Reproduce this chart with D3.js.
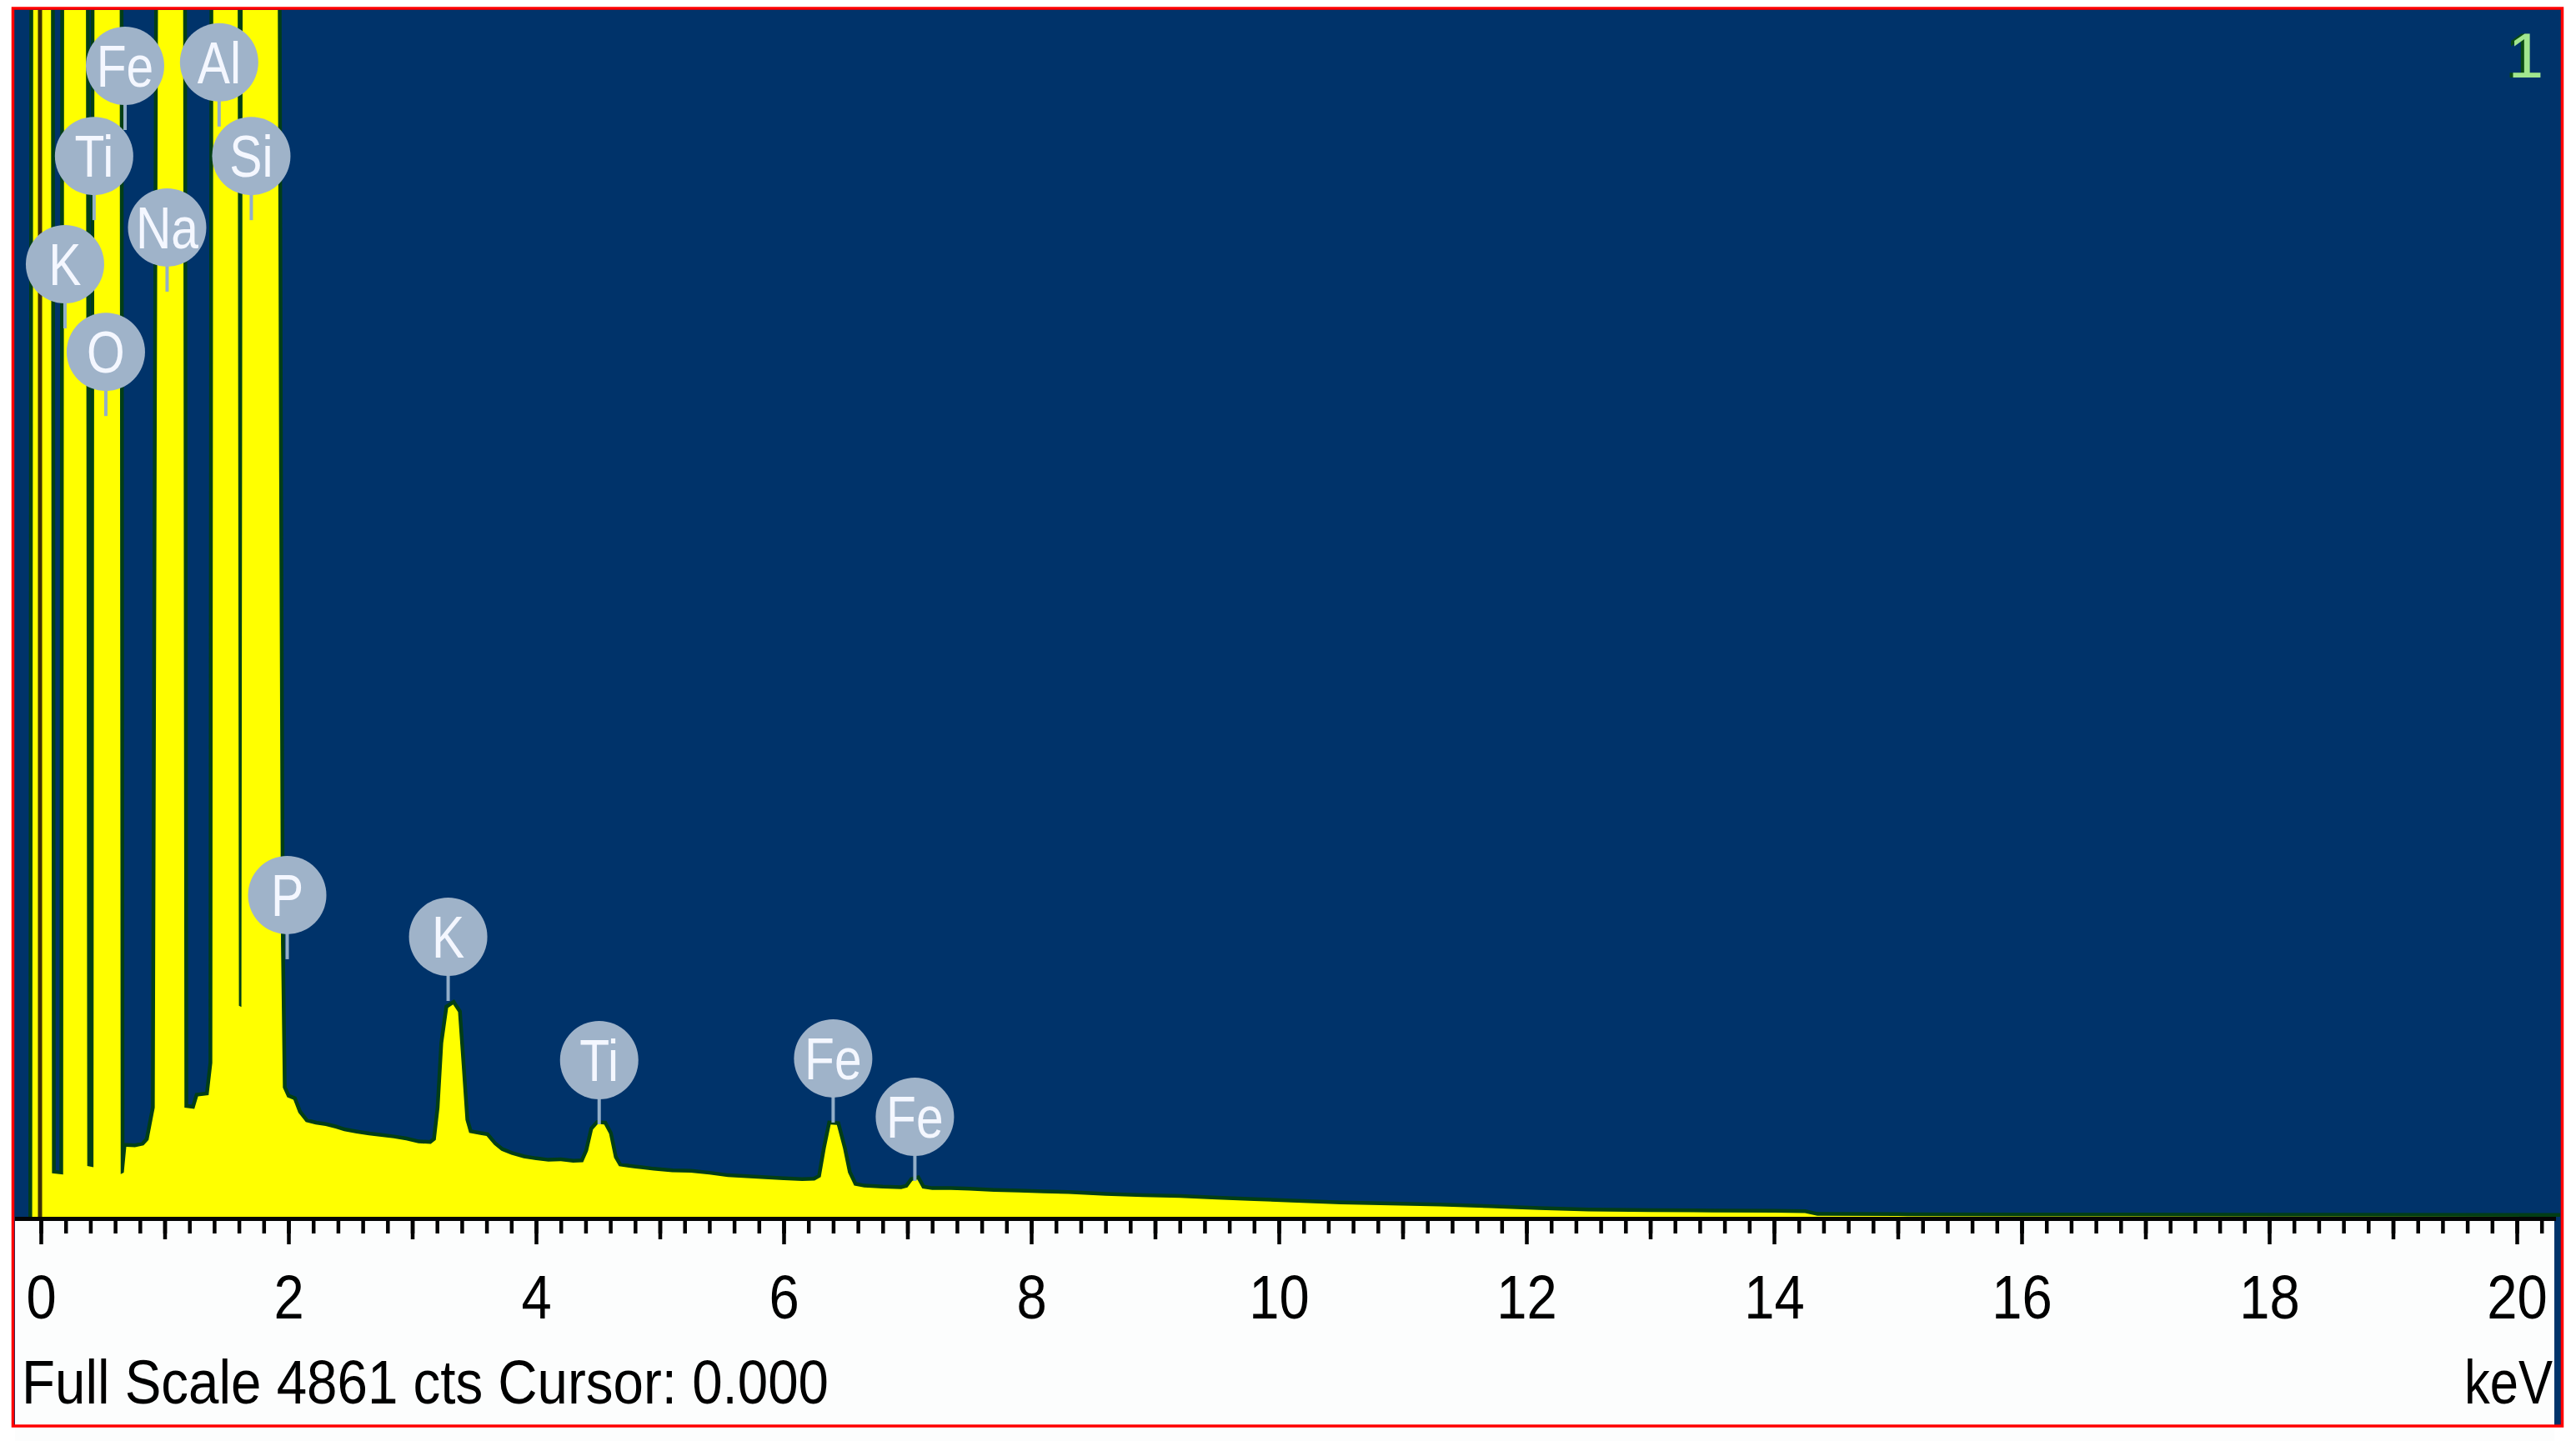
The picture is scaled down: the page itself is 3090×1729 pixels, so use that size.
<!DOCTYPE html>
<html>
<head>
<meta charset="utf-8">
<title>EDS spectrum</title>
<script src="https://cdn.jsdelivr.net/npm/d3@7/dist/d3.min.js"></script>
<style>
  html, body { margin: 0; padding: 0; background: #ffffff; }
  svg { display: block; }
  text { font-family: "Liberation Sans", Arial, sans-serif; }
</style>
</head>
<body>
<svg id="chart" width="3090" height="1729"></svg>
<script>
// --- data (keV, counts); 9000 = off scale (clipped) ---
const spectrumKeV = [
  -0.07, -0.055, 0.075, 0.09, 0.18, 0.195, 0.355, 0.375, 0.425, 0.44,
  0.63, 0.645, 0.67, 0.69, 0.76, 0.83, 0.87, 0.92, 0.97, 1.14,
  1.16, 1.24, 1.27, 1.355, 1.385, 1.40, 1.58, 1.60, 1.62, 1.64,
  1.89, 1.925, 1.94, 1.955, 1.99, 2.04, 2.08, 2.14, 2.22, 2.30,
  2.38, 2.45, 2.55, 2.65, 2.75, 2.85, 2.95, 3.05, 3.15, 3.19,
  3.22, 3.25, 3.29, 3.33, 3.37, 3.40, 3.43, 3.46, 3.55, 3.60,
  3.66, 3.72, 3.80, 3.90, 4.00, 4.10, 4.20, 4.30, 4.38, 4.42,
  4.46, 4.50, 4.55, 4.59, 4.63, 4.67, 4.75, 4.85, 4.95, 5.10,
  5.25, 5.40, 5.55, 5.70, 5.85, 6.00, 6.15, 6.25, 6.30, 6.34,
  6.38, 6.43, 6.48, 6.52, 6.57, 6.65, 6.80, 6.95, 7.00, 7.04,
  7.08, 7.12, 7.20, 7.35, 7.50, 7.70, 7.90, 8.10, 8.30, 8.60,
  8.90, 9.20, 9.50, 9.80, 10.1, 10.5, 10.9, 11.3, 11.7, 12.1,
  12.5, 13.0, 13.5, 14.0, 14.25, 14.35, 15.0, 16.0, 18.0, 20.35
];
const spectrumCounts = [
  0, 9000, 9000, 175, 170, 9000, 9000, 205, 200, 9000,
  9000, 172, 178, 282, 280, 288, 310, 440, 9000, 9000,
  440, 435, 485, 490, 620, 9000, 9000, 850, 845, 9000,
  9000, 3000, 1100, 520, 482, 472, 420, 382, 372, 366,
  356, 345, 336, 328, 322, 316, 308, 296, 294, 310,
  440, 700, 842, 855, 825, 610, 390, 338, 330, 326,
  290, 266, 250, 236, 228, 222, 224, 218, 220, 265,
  352, 374, 372, 335, 238, 204, 198, 192, 186, 180,
  178, 170, 160, 156, 152, 148, 144, 146, 160, 275,
  372, 370, 275, 178, 126, 118, 114, 112, 118, 145,
  150, 114, 108, 108, 106, 101, 98, 95, 92, 85,
  80, 76, 70, 64, 58, 50, 46, 42, 35, 28,
  22, 19, 18, 17, 15, 4, 3, 2, 1, 0
];

// element markers: label, energy (keV), marker centre height (counts)
const markerLabels = ['Fe', 'Al', 'Ti', 'Si', 'Na', 'K', 'O', 'P', 'K', 'Ti', 'Fe', 'Fe'];
const markerKeV = [0.68, 1.44, 0.43, 1.70, 1.02, 0.195, 0.525, 1.99, 3.29, 4.51, 6.40, 7.06];
const markerCounts = [4636, 4650, 4273, 4273, 3985, 3837, 3484, 1296, 1128, 631, 638, 403];

const majorTicks = d3.range(0, 21, 2);
const midTicks = d3.range(1, 20, 2);
const minorTicks = d3.range(0, 101).map(i => i * 0.2 + 0.0001).concat([20.2]);

const fullScale = 4861;
const footerText = 'Full Scale 4861 cts Cursor: 0.000';
const unitText = 'keV';
const spectrumNumber = '1';

// --- layout ---
const svg = d3.select('#chart');
const plotTop = 12, plotBottom = 1460, plotLeft = 17, plotRight = 3071;

const x = d3.scaleLinear().domain([0, 20]).range([49, 3019]);
const y = d3.scaleLinear().domain([0, fullScale]).range([plotBottom, plotTop]);

// window background
svg.append('rect')
  .attr('x', 16).attr('y', 11).attr('width', 3057).attr('height', 1699)
  .attr('fill', '#00336a');

// white axis strip
svg.append('rect')
  .attr('x', 18).attr('y', 1465).attr('width', 3046).attr('height', 1239)
  .attr('fill', '#fcfdfd');

svg.append('clipPath').attr('id', 'plotClip')
  .append('rect')
  .attr('x', plotLeft).attr('y', plotTop)
  .attr('width', plotRight - plotLeft).attr('height', plotBottom - plotTop);

const spectrum = spectrumKeV.map((e, i) => [e, spectrumCounts[i]]);

const plot = svg.append('g').attr('clip-path', 'url(#plotClip)');

// dark green outline drawn under the yellow fill
plot.append('path')
  .datum(spectrum)
  .attr('fill', 'none')
  .attr('stroke', '#023e16')
  .attr('stroke-width', 9)
  .attr('stroke-linejoin', 'miter')
  .attr('d', d3.line().x(d => x(d[0])).y(d => y(d[1])));

plot.append('path')
  .datum(spectrum)
  .attr('fill', '#ffff00')
  .attr('d', d3.area().x(d => x(d[0])).y0(y(0)).y1(d => y(d[1])));

// cursor at 0.000 keV
plot.append('line')
  .attr('x1', x(0) - 1).attr('x2', x(0) - 1)
  .attr('y1', plotTop).attr('y2', plotBottom)
  .attr('stroke', '#3a3005').attr('stroke-width', 5);

// axis base line
svg.append('rect')
  .attr('x', 18).attr('y', 1460).attr('width', 3048).attr('height', 5)
  .attr('fill', '#050505');

// ticks
const tickSets = [
  { values: minorTicks, size: 15 },
  { values: midTicks, size: 22 },
  { values: majorTicks, size: 28 }
];
tickSets.forEach(t => {
  const g = svg.append('g')
    .attr('transform', `translate(0,${1465})`)
    .call(d3.axisBottom(x).tickValues(t.values).tickSize(t.size).tickFormat(''));
  g.select('.domain').remove();
  g.selectAll('.tick line').attr('stroke', '#000').attr('stroke-width', 4.5);
  g.selectAll('.tick text').remove();
});

const labelAxis = svg.append('g')
  .attr('transform', `translate(0,${1465})`)
  .call(d3.axisBottom(x).tickValues(majorTicks).tickSize(0).tickFormat(d3.format('d')));
labelAxis.select('.domain').remove();
labelAxis.selectAll('.tick text')
  .attr('y', 117).attr('dy', 0)
  .attr('fill', '#000')
  .attr('font-size', 74)
  .attr('font-family', '"Liberation Sans", Arial, sans-serif')
  .attr('transform', 'scale(0.88,1)');

// footer
svg.append('text')
  .attr('x', 26).attr('y', 1684)
  .attr('font-size', 74)
  .attr('fill', '#000')
  .attr('textLength', 968)
  .attr('lengthAdjust', 'spacingAndGlyphs')
  .text(footerText);

svg.append('text')
  .attr('x', 3062).attr('y', 1684)
  .attr('text-anchor', 'end')
  .attr('font-size', 74)
  .attr('fill', '#000')
  .attr('textLength', 106)
  .attr('lengthAdjust', 'spacingAndGlyphs')
  .text(unitText);

// spectrum number, top right
svg.append('text')
  .attr('x', 3026).attr('y', 93)
  .attr('text-anchor', 'middle')
  .attr('font-size', 76)
  .attr('fill', '#0a4a12')
  .text(spectrumNumber);
svg.append('text')
  .attr('x', 3030).attr('y', 93)
  .attr('text-anchor', 'middle')
  .attr('font-size', 76)
  .attr('fill', '#a2e68f')
  .text(spectrumNumber);

// element markers
const markerR = 47;
const markers = svg.append('g')
  .selectAll('g')
  .data(markerLabels.map((m, i) => ({ label: m, keV: markerKeV[i], c: markerCounts[i] })))
  .join('g')
  .attr('transform', d => `translate(${x(d.keV)},${y(d.c)})`);

markers.append('line')
  .attr('x1', 0).attr('x2', 0)
  .attr('y1', markerR - 4).attr('y2', markerR + 30)
  .attr('stroke', '#93aec8').attr('stroke-width', 4);

markers.append('circle')
  .attr('r', markerR)
  .attr('fill', '#9fb3c9');

markers.append('text')
  .attr('text-anchor', 'middle')
  .attr('dy', '0.36em')
  .attr('font-size', 70)
  .attr('fill', '#f4f7ff')
  .attr('transform', 'scale(0.84,1)')
  .text(d => d.label);

// red outer frame
svg.append('rect')
  .attr('x', 15.5).attr('y', 10).attr('width', 3058).attr('height', 1701)
  .attr('fill', 'none')
  .attr('stroke', '#ff0000')
  .attr('stroke-width', 3.5);
</script>
</body>
</html>
